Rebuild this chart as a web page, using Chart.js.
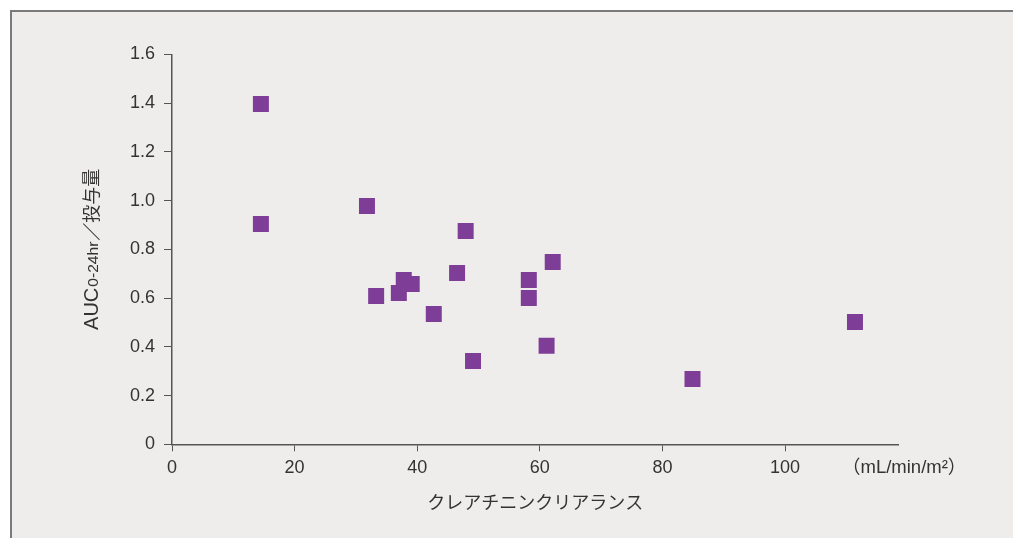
<!DOCTYPE html>
<html>
<head>
<meta charset="utf-8">
<script src="https://cdn.jsdelivr.net/npm/chart.js@4"></script>
<style>
  body { margin: 0; background: #fff; }
  #wrap { width: 1013px; height: 538px; }
</style>
</head>
<body>
<div id="wrap"><canvas id="auc"></canvas></div>
<script>
// creatinine clearance (mL/min/m2) vs AUC0-24hr / dose
const clearance = [14.5, 14.5, 31.8, 47.9, 62.1, 46.5, 58.2, 58.2, 37.8, 39.1, 37.0, 33.3, 42.7, 49.1, 61.1, 84.9, 111.4];
const aucPerDose = [1.396, 0.904, 0.978, 0.875, 0.748, 0.703, 0.674, 0.600, 0.674, 0.658, 0.621, 0.608, 0.535, 0.342, 0.404, 0.268, 0.502];
const xTicks = [0, 20, 40, 60, 80, 100];
const xTitle = 'クレアチニンクリアランス';
const unitLabel = '（mL/min/m²）';
const yTitle = ['AUC', '0-24hr', '／投与量'];

const FONT = '"Liberation Sans", Arial, "Noto Sans CJK JP", sans-serif';
const axisColor = '#555';

const frame = {
    id: 'frame',
    beforeDraw(chart) {
        const c = chart.ctx;
        c.save();
        c.fillStyle = '#eeedeb';
        c.fillRect(10, 10, chart.width - 10, chart.height - 10);
        c.strokeStyle = '#7a7a7a';
        c.lineWidth = 2;
        c.beginPath();
        c.moveTo(11, chart.height);
        c.lineTo(11, 11);
        c.lineTo(chart.width, 11);
        c.stroke();
        c.restore();
    },
    afterDraw(chart) {
        const c = chart.ctx;
        const area = chart.chartArea;
        c.save();
        c.fillStyle = '#333';
        // unit next to the x tick labels
        c.font = '18.5px ' + FONT;
        c.textBaseline = 'middle';
        c.textAlign = 'left';
        c.fillText(unitLabel, 842, 468);

        // rotated y title with subscript
        const big = '20px ' + FONT;
        const cjk = '18px ' + FONT;
        const small = '14px ' + FONT;
        const subLen = 47;
        c.font = big;
        const w0 = c.measureText(yTitle[0]).width;
        c.font = cjk;
        const w2 = c.measureText(yTitle[2]).width;
        c.font = small;
        const w1 = c.measureText(yTitle[1]).width;
        const total = w0 + subLen + w2;
        const cy = (area.top + area.bottom) / 2;
        c.translate(98, cy);
        c.rotate(-Math.PI / 2);
        c.textBaseline = 'alphabetic';
        let x = -total / 2;
        c.font = big;
        c.fillText(yTitle[0], x, 0);
        x += w0;
        c.save();
        c.translate(x + 1, 0);
        c.scale((subLen - 2) / w1, 1);
        c.font = small;
        c.fillText(yTitle[1], 0, 0);
        c.restore();
        x += subLen;
        c.font = cjk;
        c.fillText(yTitle[2], x, 0);
        c.restore();
    }
};

new Chart(document.getElementById('auc'), {
    type: 'scatter',
    data: {
        datasets: [{
            data: clearance.map((v, i) => ({ x: v, y: aucPerDose[i] })),
            backgroundColor: '#7e3d97',
            borderWidth: 0,
            pointStyle: 'rect',
            pointRadius: 11.3,
            pointHoverRadius: 11.3
        }]
    },
    options: {
        responsive: true,
        maintainAspectRatio: false,
        animation: false,
        events: [],
        layout: { padding: { left: 0, right: 114.5, top: 54.3, bottom: 0 } },
        plugins: { legend: { display: false }, tooltip: { enabled: false } },
        scales: {
            x: {
                type: 'linear',
                min: 0,
                max: 118.5,
                afterBuildTicks: s => { s.ticks = xTicks.map(v => ({ value: v })); },
                afterFit: s => { s.height = 93.7; },
                grid: { display: true, drawOnChartArea: false, drawTicks: true, tickLength: 7, color: axisColor, lineWidth: 1 },
                border: { display: true, color: axisColor, width: 1.5 },
                ticks: { color: '#333', font: { family: FONT, size: 18 }, padding: 6, maxRotation: 0 },
                title: { display: true, text: xTitle, color: '#333', font: { family: FONT, size: 18 }, padding: { top: 0, bottom: 23 } }
            },
            y: {
                min: 0,
                max: 1.6,
                afterFit: s => { s.width = 172; },
                grid: { display: true, drawOnChartArea: false, drawTicks: true, tickLength: 8, color: axisColor, lineWidth: 1 },
                border: { display: true, color: axisColor, width: 1.5 },
                ticks: {
                    stepSize: 0.2,
                    color: '#333',
                    font: { family: FONT, size: 18 },
                    padding: 9,
                    callback: v => v === 0 ? '0' : v.toFixed(1)
                }
            }
        }
    },
    plugins: [frame]
});
</script>
</body>
</html>
